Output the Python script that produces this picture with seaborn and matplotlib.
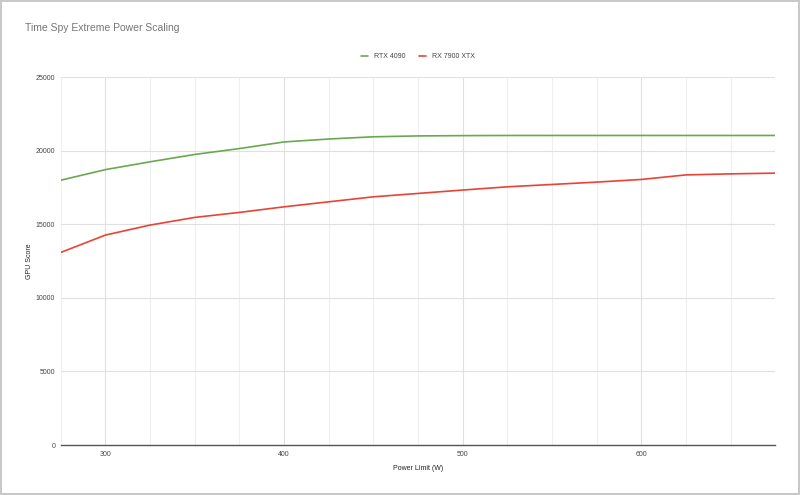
import pandas as pd
import seaborn as sns
import matplotlib.pyplot as plt
from matplotlib.ticker import MultipleLocator

# Límites de potencia (W) y puntuaciones
potencia = [275, 300, 325, 350, 375, 400, 425, 450, 475, 500, 525, 550, 575, 600, 625, 650, 675]
rtx_4090 = [18000, 18720, 19250, 19750, 20150, 20600, 20800, 20950, 21010, 21030,
            21040, 21040, 21040, 21040, 21040, 21040, 21040]
rx_7900xtx = [13090, 14270, 14950, 15470, 15810, 16190, 16530, 16870, 17100, 17330,
              17550, 17710, 17870, 18050, 18360, 18430, 18480]
series = ["RTX 4090", "RX 7900 XTX"]
colores = ["#6aa84f", "#ea4335"]

df = pd.DataFrame({
    "Power Limit (W)": potencia * 2,
    "GPU Score": rtx_4090 + rx_7900xtx,
    "GPU": [series[0]] * len(potencia) + [series[1]] * len(potencia),
})

sns.set_style("white")
plt.rcParams["font.family"] = ["Liberation Sans", "DejaVu Sans"]

fig = plt.figure(figsize=(8, 4.95), dpi=100, linewidth=1.5, edgecolor="#c8c8c8")
ax = fig.add_axes([0.076, 0.101, 0.893, 0.743])

sns.lineplot(data=df, x="Power Limit (W)", y="GPU Score", hue="GPU",
             palette=colores, linewidth=1.2, ax=ax)

ax.set_xlim(275, 675)
ax.set_ylim(0, 25000)
ax.xaxis.set_major_locator(MultipleLocator(100))
ax.xaxis.set_minor_locator(MultipleLocator(25))
ax.yaxis.set_major_locator(MultipleLocator(5000))
ax.grid(which="major", color="#e0e0e0", linewidth=0.8)
ax.grid(which="minor", axis="x", color="#efefef", linewidth=0.8)
ax.set_axisbelow(True)
for s in ["top", "right", "left"]:
    ax.spines[s].set_visible(False)
ax.spines["bottom"].set_color("#555555")
ax.spines["bottom"].set_linewidth(1)
ax.tick_params(axis="both", which="both", length=0, labelsize=5, colors="#444444", pad=4)
ax.set_xlabel("Power Limit (W)", fontsize=5, color="#222222")
ax.set_ylabel("GPU Score", fontsize=5, color="#222222")
ax.xaxis.set_label_coords(0.5, -0.055)
ax.yaxis.set_label_coords(-0.039, 0.5)

ax.legend(loc="lower center", bbox_to_anchor=(0.5, 1.03), ncol=2, frameon=False,
          fontsize=5, handlelength=1.0, columnspacing=2, handletextpad=0.8,
          labelcolor="#444444")

fig.text(0.031, 0.943, "Time Spy Extreme Power Scaling", fontsize=7.5, color="#757575",
         va="center")

plt.savefig("out.png", dpi=100, edgecolor=fig.get_edgecolor())
